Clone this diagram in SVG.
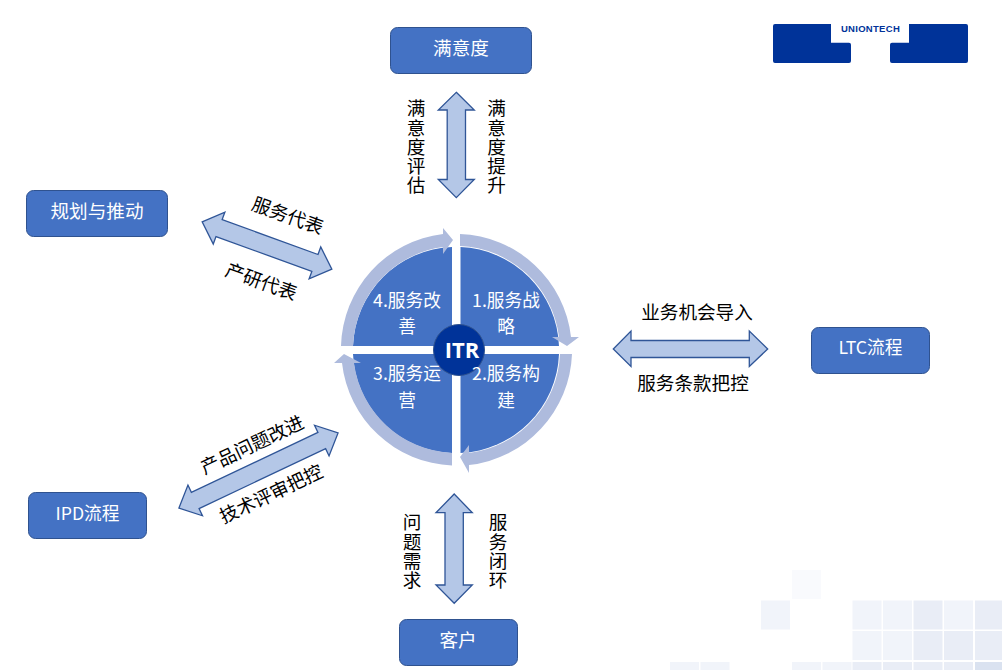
<svg xmlns="http://www.w3.org/2000/svg" width="1002" height="670" viewBox="0 0 1002 670">
<style>
text{font-family:"Noto Sans CJK SC","Noto Sans",sans-serif;text-anchor:middle;font-size:18.6px;fill:#000}
.v{writing-mode:vertical-rl;text-anchor:start;letter-spacing:.6px}
.n{fill:#4472c4;stroke:#2f528f;stroke-width:1}
text.w{fill:#fff}
text.s{font-size:17.7px}
.q{fill:#4472c4}
.r{fill:#aebbdd}
.a{fill:#b4c7e7;stroke:#2f5597;stroke-width:1.300}
</style>
<rect width="1002" height="670" fill="#fff"/>
<g id="bg">
<g fill="#f9fafd"><rect x="792" y="570" width="29" height="29"/></g>
<g fill="#f1f4fa"><rect x="761" y="600.500" width="29" height="29"/><rect x="852.500" y="600.500" width="29" height="29"/><rect x="883" y="600.500" width="29" height="29"/><rect x="944" y="600.500" width="29" height="29"/><rect x="852.500" y="631" width="29" height="29"/><rect x="883" y="631" width="29" height="29"/><rect x="670" y="662" width="29" height="8"/><rect x="700.500" y="662" width="29" height="8"/><rect x="792" y="662" width="29" height="8"/><rect x="822.500" y="662" width="29" height="8"/></g>
<g fill="#e9edf6"><rect x="913.500" y="600.500" width="29" height="29"/><rect x="975" y="600.500" width="27" height="29"/><rect x="913.500" y="631" width="29" height="29"/><rect x="944" y="631" width="29" height="29"/><rect x="975" y="631" width="27" height="29"/><rect x="852.500" y="662" width="29" height="8"/><rect x="883" y="662" width="29" height="8"/><rect x="913.500" y="662" width="29" height="8"/><rect x="944" y="662" width="29" height="8"/></g>
<rect x="975" y="662" width="27" height="8" fill="#dae2f0"/>
</g>
<g id="logo">
<path d="M775 24H831V42.700H849Q851 42.700 851 44.700V61Q851 63 849 63H775Q773 63 773 61V26Q773 24 775 24Z" fill="#003399"/>
<path d="M966 24H909V42.700H892Q890 42.700 890 44.700V61Q890 63 892 63H966Q968 63 968 61V26Q968 24 966 24Z" fill="#003399"/>
<text x="870.500" y="32" style="font-family:'Liberation Sans',sans-serif;font-weight:700;font-size:9.500px;fill:#003399;letter-spacing:.3px">UNIONTECH</text>
</g>
<g id="connectors">
<path class="a" d="M456.300 92.300L474.300 110H465.500V179.500H474.300L456.300 197.700L438.300 179.500H447.200V110H438.300Z"/>
<path class="a" d="M454.200 494L472.300 512.700H463.300V585H472.300L454.200 603.300L436 585H445V512.700H436Z"/>
<path class="a" d="M613.300 349L631 331V340.500H749.300V331L767.700 349L749.300 366.500V357.500H631V366.500Z"/>
<path class="a" d="M-69 0L-51 -17V-9H51V-17L69 0L51 17V9H-51V17Z" transform="translate(267 245.500) rotate(20)"/>
<path class="a" d="M-88 0L-70 -17V-9H70V-17L88 0L70 17V9H-70V17Z" transform="translate(258.500 470.500) rotate(-25.300)"/>
</g>
<g id="cycle">
<path class="q" d="M460.500 247A103 103 0 0 1 559 346H460.500Z"/>
<path class="q" d="M460.500 354H559A103 103 0 0 1 460.500 453Z"/>
<path class="q" d="M452 354V453A103 103 0 0 1 353 354Z"/>
<path class="q" d="M452 346H353A103 103 0 0 1 452 247Z"/>
<path class="r" d="M460 234A116 116 0 0 1 571 337H579L567 346L552 337H559A104 104 0 0 0 460 246Z"/>
<path class="r" d="M572 354A116 116 0 0 1 469 465V473L460 457L469 445V453A104 104 0 0 0 560 354Z"/>
<path class="r" d="M452 465.500A115.500 115.500 0 0 1 342 363H334L344 354L361 363H354A104 104 0 0 0 452 453Z"/>
<path class="r" d="M341 346A116 116 0 0 1 443 234V228L453 240L443 254V247A104 104 0 0 0 353 346Z"/>
<circle cx="459" cy="350" r="25.500" fill="#003399" stroke="#2f528f"/>
<text x="462" y="358" class="w" style="font-family:'Open Sans',sans-serif;font-size:22px;font-weight:700">ITR</text>
<text class="w s" x="506" y="307">1.服务战</text><text class="w s" x="506" y="333">略</text>
<text class="w s" x="506" y="380">2.服务构</text><text class="w s" x="506" y="407">建</text>
<text class="w s" x="407" y="380">3.服务运</text><text class="w s" x="407" y="407">营</text>
<text class="w s" x="407" y="307">4.服务改</text><text class="w s" x="407" y="333">善</text>
</g>
<g id="n-satisfaction"><rect class="n" x="390.500" y="27.500" width="141" height="46" rx="7"/><text class="w" x="461" y="55">满意度</text></g>
<g id="n-planning"><rect class="n" x="26.500" y="190.500" width="141" height="46" rx="7"/><text class="w" x="97" y="218">规划与推动</text></g>
<g id="n-ltc"><rect class="n" x="811.500" y="327.500" width="118" height="46" rx="7"/><text class="w s" x="870.500" y="354">LTC流程</text></g>
<g id="n-ipd"><rect class="n" x="28.500" y="492.500" width="118" height="46" rx="7"/><text class="w s" x="87.500" y="520">IPD流程</text></g>
<g id="n-customer"><rect class="n" x="399.500" y="619.500" width="118" height="46" rx="7"/><text class="w" x="458" y="647">客户</text></g>
<g id="labels">
<text class="v" x="416" y="99">满意度评估</text>
<text class="v" x="496.500" y="99">满意度提升</text>
<text class="v" x="412" y="513">问题需求</text>
<text class="v" x="498" y="513">服务闭环</text>
<text x="697" y="319">业务机会导入</text>
<text x="693" y="390">服务条款把控</text>
<text transform="translate(285.500 222) rotate(20)">服务代表</text>
<text transform="translate(259 288) rotate(20)">产研代表</text>
<text transform="translate(255 451) rotate(-25.300)">产品问题改进</text>
<text transform="translate(274 500) rotate(-25.300)">技术评审把控</text>
</g>
</svg>
